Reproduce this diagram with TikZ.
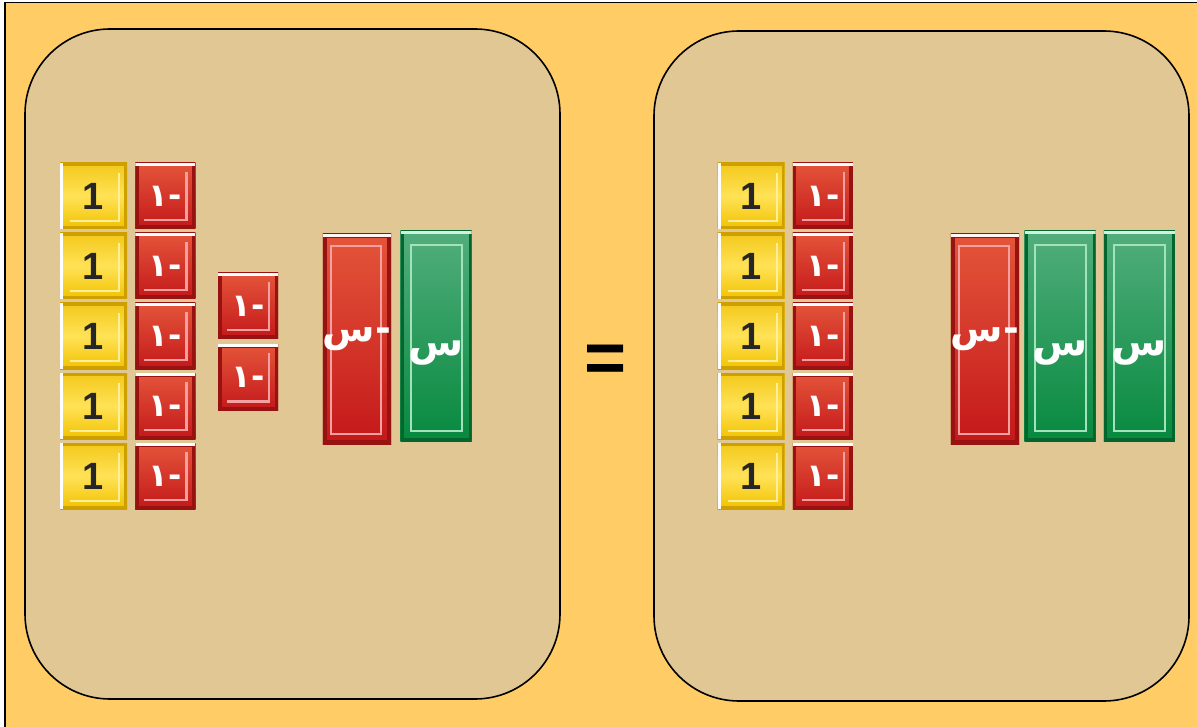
\documentclass[tikz,border=0pt]{standalone}
\usepackage{fontspec}
\setmainfont{Liberation Sans}
\newfontfamily\arabicfont[Script=Arabic]{DejaVu Sans}
\TeXXeTstate=1
\usetikzlibrary{positioning}
\definecolor{bgorange}{HTML}{FFCC66}
\definecolor{paneltan}{HTML}{E0C793}
\definecolor{goldedge}{HTML}{CDA000}
\definecolor{goldtop}{HTML}{F2C81A}
\definecolor{goldmid}{HTML}{FFE256}
\definecolor{goldbot}{HTML}{F2C200}
\definecolor{rededge}{HTML}{981212}
\definecolor{redtop}{HTML}{E4553A}
\definecolor{redbot}{HTML}{C4181A}
\definecolor{redline}{HTML}{F2A0A0}
\definecolor{greenedge}{HTML}{05652E}
\definecolor{greentop}{HTML}{52AE7C}
\definecolor{greenbot}{HTML}{07893F}
\definecolor{greenline}{HTML}{A2E2BC}
\newcommand{\negone}{{\arabicfont\bfseries\beginR-١\endR}}
\newcommand{\negx}{{\arabicfont\bfseries\beginR-س\endR}}
\newcommand{\posx}{\raisebox{-20pt}[0pt][0pt]{\arabicfont\bfseries\beginR س\endR}}

\begin{document}
\begin{tikzpicture}[x=1pt,y=-1pt,
  panel/.style={draw,line width=1.6pt,fill=paneltan,rounded corners=85pt},
  tile/.style={inner sep=0pt,text=white},
  onetile/.style={tile,minimum width=67pt,minimum height=66pt,text=black!85,
    top color=goldtop,bottom color=goldbot,middle color=goldmid,
    font=\fontsize{38}{38}\selectfont\bfseries,
    path picture={
      \draw[goldedge,line width=6pt] (path picture bounding box.north west) rectangle (path picture bounding box.south east);
      \draw[goldmid!60!white,line width=2pt] ([xshift=10pt,yshift=8pt]path picture bounding box.south west) -| ([xshift=-8pt,yshift=-10pt]path picture bounding box.north east);
      \fill[white] (path picture bounding box.north west) rectangle ([xshift=3pt]path picture bounding box.south west);}},
  negtile/.style={tile,minimum width=60pt,minimum height=66pt,
    top color=redtop,bottom color=redbot,
    font=\fontsize{32}{32}\selectfont,
    path picture={
      \draw[rededge,line width=7pt] (path picture bounding box.north west) rectangle (path picture bounding box.south east);
      \draw[redline,line width=2.5pt] ([xshift=9pt,yshift=9pt]path picture bounding box.south west) -| ([xshift=-9pt,yshift=-9pt]path picture bounding box.north east);
      \fill[white] (path picture bounding box.north west) rectangle ([yshift=-3pt]path picture bounding box.north east);}},
  negxtile/.style={tile,minimum width=68pt,minimum height=210pt,
    top color=redtop,bottom color=redbot,
    font=\fontsize{38}{38}\selectfont,
    path picture={
      \draw[rededge,line width=8pt] (path picture bounding box.north west) rectangle (path picture bounding box.south east);
      \draw[redline,line width=2.5pt] ([xshift=8pt,yshift=10pt]path picture bounding box.south west) rectangle ([xshift=-10pt,yshift=-12pt]path picture bounding box.north east);
      \fill[white!85!pink] (path picture bounding box.north west) rectangle ([yshift=-3pt]path picture bounding box.north east);}},
  posxtile/.style={tile,minimum width=71pt,minimum height=210pt,
    top color=greentop,bottom color=greenbot,
    font=\fontsize{40}{40}\selectfont,
    path picture={
      \draw[greenedge,line width=6pt] (path picture bounding box.north west) rectangle (path picture bounding box.south east);
      \draw[greenline,line width=2pt] ([xshift=10pt,yshift=10pt]path picture bounding box.south west) -| ([xshift=-10pt,yshift=-14pt]path picture bounding box.north east) -| cycle;
      \fill[greenline!50!white] (path picture bounding box.north west) rectangle ([yshift=-3pt]path picture bounding box.north east);}}]

  \useasboundingbox (0,0) rectangle (1197,727);
  \clip (0,0) rectangle (1197,727);
  \fill[white] (0,0) rectangle (1197,727);
  \draw[line width=1.6pt,fill=bgorange] (5,2.5) rectangle (1210,740);

  % left side
  \node[panel,minimum width=535pt,minimum height=670pt] (left) at (292.5,364) {};
  \foreach \i in {0,...,4}{
    \node[onetile] (la\i) at (93.5,{196+70*\i}) {1};
    \node[negtile,right=8pt of la\i] (lb\i) {\negone};
  }
  \node[negtile] (lc0) at (248,306) {\negone};
  \node[negtile,below=5pt of lc0] (lc1) {\negone};
  \node[negxtile] (lx) at (357,339) {\negx};
  \node[posxtile,right=9pt of lx,yshift=3pt] (ly) {\posx};

  % equals sign
  \node[font=\fontsize{72}{72}\selectfont\bfseries] (eq) at (606,364) {=};

  % right side
  \node[panel,minimum width=535pt,minimum height=670pt] (right) at (921.5,366) {};
  \foreach \i in {0,...,4}{
    \node[onetile] (ra\i) at (751,{196+70*\i}) {1};
    \node[negtile,right=8pt of ra\i] (rb\i) {\negone};
  }
  \node[negxtile] (rx) at (985,339) {\negx};
  \node[posxtile,right=5pt of rx,yshift=3pt] (ry) {\posx};
  \node[posxtile,right=8pt of ry] (rz) {\posx};
\end{tikzpicture}
\end{document}
